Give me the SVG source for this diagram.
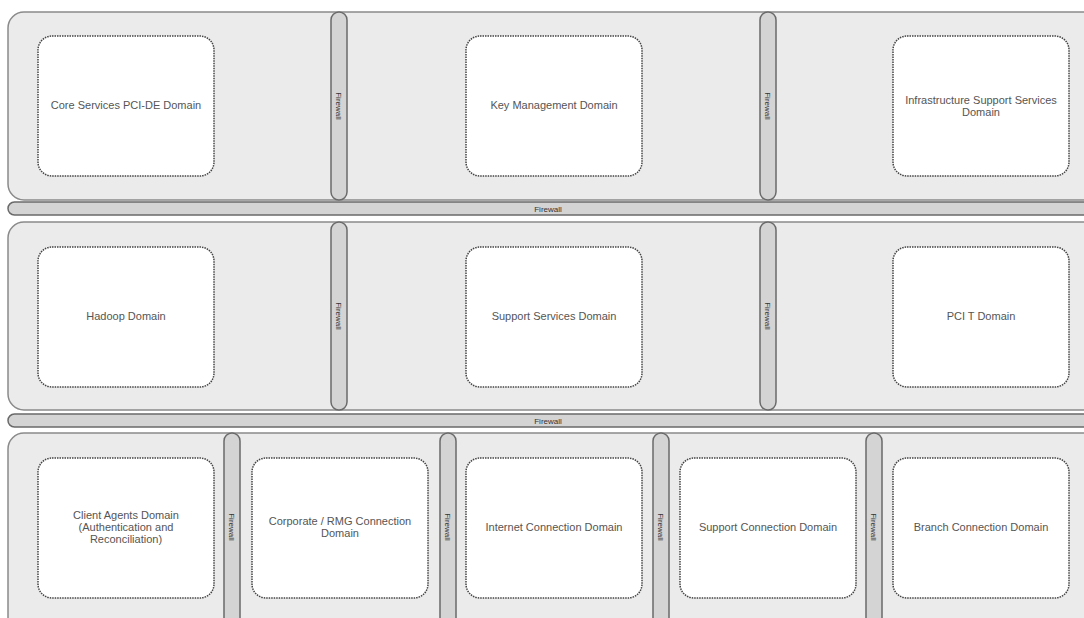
<svg xmlns="http://www.w3.org/2000/svg" width="1084" height="618" viewBox="0 0 1084 618">
<style>
.zone{fill:#ebebeb;stroke:#8a8a8a;stroke-width:1.5}
.fw{fill:#d4d4d4;stroke:#6a6a6a;stroke-width:1.5}
.node{fill:#ffffff;stroke:#444;stroke-width:1.5;stroke-dasharray:1.5 1}
.lbl{font-family:"Liberation Sans",Arial,sans-serif;font-size:11px;fill:#555;text-anchor:middle}
.fwl{font-family:"Liberation Sans",Arial,sans-serif;font-size:8px;fill:#333;text-anchor:middle}
</style>
<rect x="0" y="0" width="1084" height="618" fill="#ffffff"/>
<g id="zones">
<rect class="zone" x="8" y="12" width="1092" height="188" rx="16"/>
<rect class="zone" x="8" y="222" width="1092" height="188" rx="16"/>
<rect class="zone" x="8" y="433" width="1092" height="200" rx="16"/>
</g>
<g id="connectors">
<g id="fw-h1"><rect class="fw" x="8" y="202" width="1092" height="13" rx="6.5"/><text class="fwl" x="548" y="211.5">Firewall</text></g>
<g id="fw-h2"><rect class="fw" x="8" y="414" width="1092" height="13" rx="6.5"/><text class="fwl" x="548" y="423.5">Firewall</text></g>
<g id="fw-v1"><rect class="fw" x="331" y="12" width="16" height="188" rx="8"/><text class="fwl" transform="translate(336,106) rotate(90)">Firewall</text></g>
<g id="fw-v2"><rect class="fw" x="760" y="12" width="16" height="188" rx="8"/><text class="fwl" transform="translate(765,106) rotate(90)">Firewall</text></g>
<g id="fw-v3"><rect class="fw" x="331" y="222" width="16" height="188" rx="8"/><text class="fwl" transform="translate(336,316) rotate(90)">Firewall</text></g>
<g id="fw-v4"><rect class="fw" x="760" y="222" width="16" height="188" rx="8"/><text class="fwl" transform="translate(765,316) rotate(90)">Firewall</text></g>
<g id="fw-v5"><rect class="fw" x="224" y="433" width="16" height="200" rx="8"/><text class="fwl" transform="translate(229,527) rotate(90)">Firewall</text></g>
<g id="fw-v6"><rect class="fw" x="440" y="433" width="16" height="200" rx="8"/><text class="fwl" transform="translate(445,527) rotate(90)">Firewall</text></g>
<g id="fw-v7"><rect class="fw" x="653" y="433" width="16" height="200" rx="8"/><text class="fwl" transform="translate(658,527) rotate(90)">Firewall</text></g>
<g id="fw-v8"><rect class="fw" x="866" y="433" width="16" height="200" rx="8"/><text class="fwl" transform="translate(871,527) rotate(90)">Firewall</text></g>
</g>
<g id="n1"><rect class="node" x="38" y="36" width="176" height="140" rx="14"/><text class="lbl" x="126" y="109">Core Services PCI-DE Domain</text></g>
<g id="n2"><rect class="node" x="466" y="36" width="176" height="140" rx="14"/><text class="lbl" x="554" y="109">Key Management Domain</text></g>
<g id="n3"><rect class="node" x="893" y="36" width="176" height="140" rx="14"/><text class="lbl" x="981" y="104">Infrastructure Support Services</text><text class="lbl" x="981" y="116">Domain</text></g>
<g id="n4"><rect class="node" x="38" y="247" width="176" height="140" rx="14"/><text class="lbl" x="126" y="320">Hadoop Domain</text></g>
<g id="n5"><rect class="node" x="466" y="247" width="176" height="140" rx="14"/><text class="lbl" x="554" y="320">Support Services Domain</text></g>
<g id="n6"><rect class="node" x="893" y="247" width="176" height="140" rx="14"/><text class="lbl" x="981" y="320">PCI T Domain</text></g>
<g id="n7"><rect class="node" x="38" y="458" width="176" height="140" rx="14"/><text class="lbl" x="126" y="519">Client Agents Domain</text><text class="lbl" x="126" y="531">(Authentication and</text><text class="lbl" x="126" y="543">Reconciliation)</text></g>
<g id="n8"><rect class="node" x="252" y="458" width="176" height="140" rx="14"/><text class="lbl" x="340" y="525">Corporate / RMG Connection</text><text class="lbl" x="340" y="537">Domain</text></g>
<g id="n9"><rect class="node" x="466" y="458" width="176" height="140" rx="14"/><text class="lbl" x="554" y="531">Internet Connection Domain</text></g>
<g id="n10"><rect class="node" x="680" y="458" width="176" height="140" rx="14"/><text class="lbl" x="768" y="531">Support Connection Domain</text></g>
<g id="n11"><rect class="node" x="893" y="458" width="176" height="140" rx="14"/><text class="lbl" x="981" y="531">Branch Connection Domain</text></g>
</svg>
